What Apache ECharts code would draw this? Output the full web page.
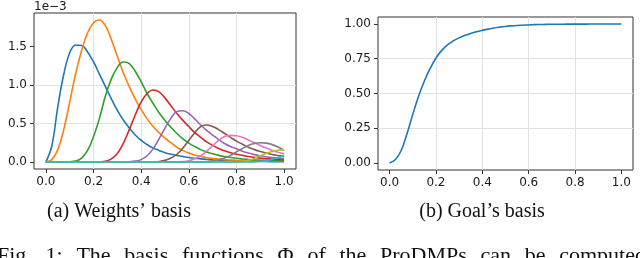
<!DOCTYPE html>
<html>
<head>
<meta charset="utf-8">
<script src="https://cdn.jsdelivr.net/npm/echarts@6/dist/echarts.min.js"></script>
<style>
html,body{margin:0;padding:0;background:#fff;}
#c{width:640px;height:258px;}
</style>
</head>
<body>
<div id="c"></div>
<script>
// Shared phase samples (x axis), step 0.025
const X = [0,0.025,0.05,0.075,0.1,0.125,0.15,0.175,0.2,0.225,0.25,0.275,0.3,0.325,0.35,0.375,0.4,0.425,0.45,0.475,0.5,0.525,0.55,0.575,0.6,0.625,0.65,0.675,0.7,0.725,0.75,0.775,0.8,0.825,0.85,0.875,0.9,0.925,0.95,0.975,1.0];

// (a) Weights' basis, values in units of 1e-3
const basis1 = [0,0.21,0.72,1.14,1.42,1.52,1.515,1.43,1.30,1.14,0.98,0.82,0.67,0.545,0.44,0.35,0.28,0.225,0.18,0.15,0.12,0.10,0.085,0.07,0.058,0.048,0.04,0.033,0.027,0.022,0.018,0.015,0.012,0.010,0.008,0.007,0.006,0.005,0.004,0.003,0.003];
const basis2 = [0,0.03,0.16,0.42,0.78,1.15,1.45,1.68,1.81,1.845,1.77,1.59,1.37,1.16,0.98,0.82,0.68,0.56,0.46,0.38,0.31,0.25,0.19,0.15,0.115,0.09,0.07,0.055,0.045,0.037,0.03,0.025,0.021,0.018,0.015,0.013,0.011,0.01,0.009,0.008,0.007];
const basis3 = [0,0,0,0,0.003,0.012,0.05,0.15,0.33,0.57,0.86,1.08,1.23,1.30,1.28,1.18,1.04,0.89,0.76,0.64,0.54,0.45,0.37,0.30,0.245,0.20,0.16,0.13,0.105,0.085,0.07,0.057,0.047,0.039,0.032,0.027,0.023,0.02,0.017,0.015,0.013];
const basis4 = [0,0,0,0,0,0,0,0,0,0.002,0.01,0.04,0.11,0.24,0.42,0.61,0.78,0.89,0.935,0.91,0.83,0.73,0.63,0.54,0.46,0.38,0.32,0.26,0.215,0.175,0.145,0.12,0.10,0.085,0.07,0.06,0.05,0.043,0.037,0.032,0.028];
const basis5 = [0,0,0,0,0,0,0,0,0,0,0,0,0,0,0.002,0.01,0.03,0.08,0.17,0.30,0.44,0.57,0.655,0.665,0.63,0.56,0.48,0.41,0.35,0.29,0.24,0.20,0.17,0.14,0.115,0.095,0.08,0.068,0.058,0.05,0.043];
const basis6 = [0,0,0,0,0,0,0,0,0,0,0,0,0,0,0,0,0,0,0.002,0.006,0.02,0.05,0.10,0.18,0.28,0.38,0.46,0.48,0.46,0.42,0.37,0.32,0.27,0.23,0.19,0.16,0.135,0.115,0.097,0.083,0.07];
const basis7 = [0,0,0,0,0,0,0,0,0,0,0,0,0,0,0,0,0,0,0,0,0,0,0.002,0.005,0.015,0.04,0.08,0.14,0.21,0.28,0.33,0.345,0.34,0.32,0.285,0.25,0.215,0.18,0.15,0.125,0.105];
const basis8 = [0,0,0,0,0,0,0,0,0,0,0,0,0,0,0,0,0,0,0,0,0,0,0,0,0,0,0.001,0.003,0.01,0.025,0.05,0.085,0.13,0.175,0.215,0.24,0.25,0.245,0.225,0.195,0.15];
const basis9 = [0,0,0,0,0,0,0,0,0,0,0,0,0,0,0,0,0,0,0,0,0,0,0,0,0,0,0,0,0,0,0,0,0.001,0.005,0.02,0.045,0.08,0.11,0.135,0.152,0.16];
const basis10 = [0,0,0,0,0,0,0,0,0,0,0,0,0,0,0,0,0,0,0,0,0,0,0,0,0,0,0,0,0,0,0,0,0,0,0,0.002,0.008,0.02,0.035,0.057,0.085];

// (b) Goal's basis
const goal = [0,0.025,0.09,0.21,0.35,0.48,0.59,0.68,0.755,0.81,0.85,0.878,0.9,0.918,0.932,0.944,0.954,0.963,0.971,0.977,0.982,0.986,0.989,0.991,0.993,0.995,0.996,0.997,0.998,0.998,0.998,0.999,0.999,0.999,0.999,1,1,1,1,1,1];

const xTicks = [0,0.2,0.4,0.6,0.8,1.0];
const yTicksA = [0,0.5,1.0,1.5];
const yTicksB = [0,0.25,0.5,0.75,1.0];
const captionA = '(a) Weights\u2019 basis';
const captionB = '(b) Goal\u2019s basis';
const figWords = ['Fig.','1:','The','basis','functions','\u03A6','of','the','ProDMPs','can','be','computed'];
const offsetText = '1e\u22123';

const palette = ['#1f77b4','#ff7f0e','#2ca02c','#d62728','#9467bd','#8c564b','#e377c2','#7f7f7f','#bcbd22','#17becf'];
const basisA = [basis1,basis2,basis3,basis4,basis5,basis6,basis7,basis8,basis9,basis10];

const FONT = 'DejaVu Sans';
const SERIF = '"Liberation Serif"';
const labelCol = '#1a1a1a';
const gridCol = '#e2e2e2';
const frameCol = '#333333';

function xAxisCfg(idx){
  return {
    type:'value', gridIndex:idx, min:-0.05, max:1.05,
    minInterval:0.2, maxInterval:0.2,
    axisLine:{show:false, onZero:false},
    axisTick:{show:true, inside:false, length:4, customValues:xTicks, lineStyle:{color:frameCol,width:1}},
    axisLabel:{customValues:xTicks, margin:7, fontFamily:FONT, fontSize:12, color:labelCol,
      formatter:v=>v.toFixed(1)},
    splitLine:{show:true, showMinLine:false, showMaxLine:false, lineStyle:{color:gridCol,width:1}}
  };
}
function yAxisCfg(idx, min, max, step, ticks, dec){
  return {
    type:'value', gridIndex:idx, min:min, max:max,
    minInterval:step, maxInterval:step,
    axisLine:{show:false, onZero:false},
    axisTick:{show:true, inside:false, length:4, customValues:ticks, lineStyle:{color:frameCol,width:1}},
    axisLabel:{customValues:ticks, margin:7, fontFamily:FONT, fontSize:12, color:labelCol,
      formatter:v=>v.toFixed(dec)},
    splitLine:{show:true, showMinLine:false, showMaxLine:false, lineStyle:{color:gridCol,width:1}}
  };
}

const series = basisA.map((arr,i)=>({
  type:'line', xAxisIndex:0, yAxisIndex:0, showSymbol:false, symbol:'none',
  smooth:0.4, clip:true, animation:false,
  lineStyle:{color:palette[i], width:1.6}, itemStyle:{color:palette[i]},
  data: X.map((x,j)=>[x, arr[j]])
}));
series.push({
  type:'line', xAxisIndex:1, yAxisIndex:1, showSymbol:false, symbol:'none',
  smooth:0.4, animation:false,
  lineStyle:{color:palette[0], width:1.6}, itemStyle:{color:palette[0]},
  data: X.map((x,j)=>[x, goal[j]])
});

// justified figure caption line (word layout only)
const capFont = '22px ' + SERIF;
const mctx = document.createElement('canvas').getContext('2d');
mctx.font = capFont;
const widths = figWords.map(w=>mctx.measureText(w).width);
const lineStart = -3, lineEnd = 646;
const gap = (lineEnd - lineStart - widths.reduce((a,b)=>a+b,0)) / (figWords.length-1);
let cx = lineStart;
const figTexts = figWords.map((w,i)=>{
  const el = {type:'text', x:cx, y:256, style:{text:w, font:capFont, fill:'#111', align:'left', verticalAlign:'middle'}};
  cx += widths[i] + gap;
  return el;
});

const chart = echarts.init(document.getElementById('c'), null, {renderer:'canvas'});
chart.setOption({
  animation:false,
  backgroundColor:'#ffffff',
  grid:[
    {left:34, top:13, width:262, height:156, show:true, borderColor:frameCol, borderWidth:1, containLabel:false},
    {left:378, top:17, width:255, height:153, show:true, borderColor:frameCol, borderWidth:1, containLabel:false}
  ],
  xAxis:[xAxisCfg(0), xAxisCfg(1)],
  yAxis:[yAxisCfg(0,-0.092,1.937,0.5,yTicksA,1), yAxisCfg(1,-0.05,1.05,0.25,yTicksB,2)],
  series: series,
  graphic:[
    {type:'text', left:34, top:1, style:{text:offsetText, font:'12px "DejaVu Sans"', fill:labelCol}},
    {type:'text', x:119, y:212, style:{text:captionA, font:'20px ' + SERIF, fill:'#111', align:'center', verticalAlign:'middle'}},
    {type:'text', x:482, y:212, style:{text:captionB, font:'20px ' + SERIF, fill:'#111', align:'center', verticalAlign:'middle'}}
  ].concat(figTexts)
});
</script>
</body>
</html>
